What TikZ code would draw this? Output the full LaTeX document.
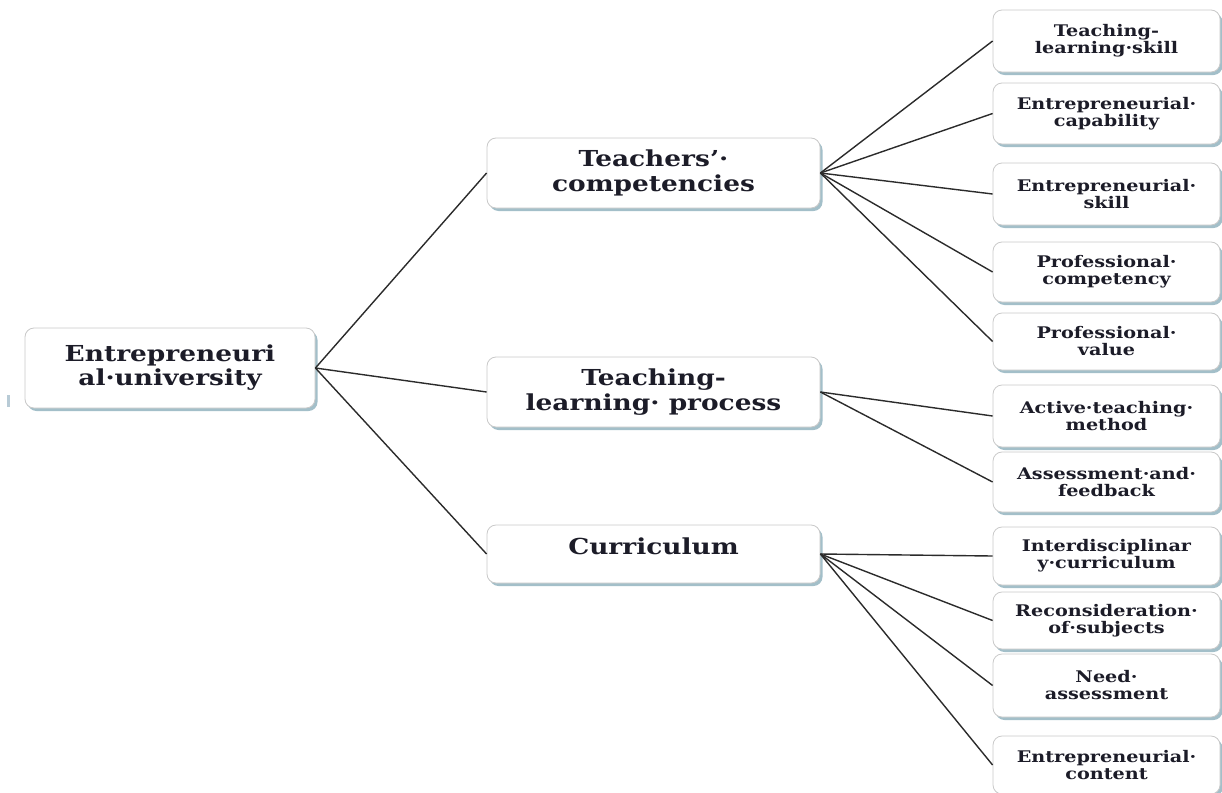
\documentclass[tikz,border=0pt]{standalone}
\usepackage{fontspec}
\usetikzlibrary{shadows}
\newfontfamily\diagfont{DejaVu Serif}[FakeStretch=1.2]
\definecolor{boxline}{HTML}{C9C9C9}
\definecolor{shadowc}{HTML}{A3BFC9}
\definecolor{linec}{HTML}{2B2B2B}
\definecolor{txt}{HTML}{1C1C28}
\definecolor{speck}{HTML}{B8CBD6}
\tikzset{
  box/.style={draw=boxline, line width=0.8pt, fill=white, rounded corners=9pt,
    align=center, text=txt, inner sep=0pt,
    drop shadow={shadow xshift=2.5pt, shadow yshift=-3pt, fill=shadowc, opacity=1}},
  rootbox/.style={box, minimum width=290pt, minimum height=80pt,
    font=\diagfont\bfseries\fontsize{22}{24}\selectfont},
  midbox/.style={box, minimum width=333pt, minimum height=70pt,
    font=\diagfont\bfseries\fontsize{22}{25}\selectfont},
  leafbox/.style={box, minimum width=227pt, minimum height=60pt,
    font=\diagfont\bfseries\fontsize{16}{17}\selectfont},
  link/.style={draw=linec, line width=1.4pt}
}
\begin{document}
\begin{tikzpicture}[x=1pt,y=-1pt]
\useasboundingbox (0,0) rectangle (1222,792);
\fill[speck] (7,395) rectangle (10,407);
% nodes
\node[rootbox] (root) at (170,368) {Entrepreneuri\\al·university};
\node[midbox] (tc) at (653.5,173) {Teachers’·\\competencies};
\node[midbox] (tl) at (653.5,392) {Teaching-\\learning· process};
\node[midbox, minimum height=58pt] (cur) at (653.5,554) {\raisebox{8pt}[\height][\depth]{Curriculum}};
\node[leafbox, minimum height=62pt] (l1) at (1106.5,41) {Teaching-\\learning·skill};
\node[leafbox, minimum height=61pt] (l2) at (1106.5,113.5) {Entrepreneurial·\\capability};
\node[leafbox, minimum height=62pt] (l3) at (1106.5,194) {Entrepreneurial·\\skill};
\node[leafbox, minimum height=60pt] (l4) at (1106.5,272) {Professional·\\competency};
\node[leafbox, minimum height=57pt] (l5) at (1106.5,341.5) {Professional·\\value};
\node[leafbox, minimum height=62pt] (l6) at (1106.5,416) {Active·teaching·\\method};
\node[leafbox, minimum height=60pt] (l7) at (1106.5,482) {Assessment·and·\\feedback};
\node[leafbox, minimum height=58pt] (l8) at (1106.5,556) {Interdisciplinar\\y·curriculum};
\node[leafbox, minimum height=57pt] (l9) at (1106.5,620.5) {Reconsideration·\\of·subjects};
\node[leafbox, minimum height=63pt] (l10) at (1106.5,685.5) {Need·\\assessment};
\node[leafbox, minimum height=58pt] (l11) at (1106.5,765) {Entrepreneurial·\\content};
% connectors
\draw[link] (root.east) -- (tc.west);
\draw[link] (root.east) -- (tl.west);
\draw[link] (root.east) -- (cur.west);
\foreach \n in {l1,l2,l3,l4,l5} \draw[link] (tc.east) -- (\n.west);
\foreach \n in {l6,l7} \draw[link] (tl.east) -- (\n.west);
\foreach \n in {l8,l9,l10,l11} \draw[link] (cur.east) -- (\n.west);
\end{tikzpicture}
\end{document}
